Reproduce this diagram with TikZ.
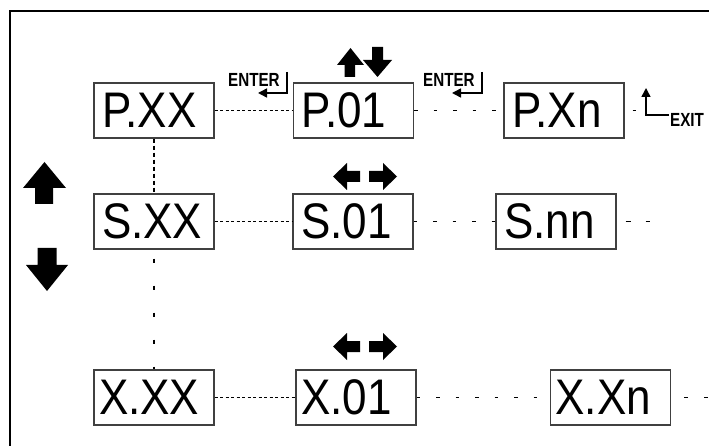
\documentclass[tikz,border=0pt]{standalone}
\usepackage{fontspec}
\newfontfamily\boxfont[FakeStretch=0.88]{Liberation Sans}
\newfontfamily\labfont[FakeStretch=0.8]{Liberation Sans}
\usetikzlibrary{arrows.meta}
\begin{document}
\begin{tikzpicture}[x=1pt,y=-1pt,
  dbox/.style={draw=black!75,line width=1.4pt,minimum height=55pt,inner ysep=0pt,
    inner xsep=#1,text width=120pt-2*#1,align=left,
    font=\boxfont\fontsize{50pt}{50pt}\selectfont},
  dbox/.default=8pt,
  dense/.style={line width=1.5pt,dash pattern=on 3pt off 2.5pt},
  sparse/.style={line width=1.5pt,dash pattern=on 3.5pt off 16pt},
  lab/.style={font=\labfont\bfseries\fontsize{19pt}{19pt}\selectfont,inner sep=0pt,anchor=base west},
  keyline/.style={line width=1.5pt,-{Triangle[length=9pt,width=9pt]}},
  blk/.style={fill=black}]
\useasboundingbox (0,0) rectangle (709,446);
% frame
\draw[line width=2pt] (10,446) -- (10,11) -- (709,11);
% boxes
\node[dbox] (PXX) at (154,110.5) {P.XX};
\node[dbox] (P01) at (353.5,110.5) {P.01};
\node[dbox] (PXn) at (564,110.5) {P.Xn};
\node[dbox] (SXX) at (154,221.5) {S.XX};
\node[dbox] (S01) at (353,221.5) {S.01};
\node[dbox] (Snn) at (556,221.5) {S.nn};
\node[dbox=5pt] (XXX) at (154,397.5) {X.XX};
\node[dbox=5pt] (X01) at (356,397.5) {X.01};
\node[dbox=5pt] (XXn) at (610.5,397.5) {X.Xn};
% free ends
\coordinate (Pend) at (636,110.5);
\coordinate (Send) at (650,221.5);
\coordinate (Xend) at (709,397.5);
% connectors
\draw[dense] (PXX.east) -- (P01.west);
\draw[sparse] (P01.east) -- (PXn.west);
\draw[line width=1.5pt,dash pattern=on 0pt off 8pt on 4pt off 20pt] (PXn.east) -- (Pend);
\draw[line width=1.5pt,dash pattern=on 4pt off 3pt] (PXX.south) -- (SXX.north);
\draw[line width=1.5pt,dash pattern=on 0pt off 9pt on 4pt off 14pt] (SXX.south) -- (XXX.north);
\draw[dense] (SXX.east) -- (S01.west);
\draw[sparse] (S01.east) -- (Snn.west);
\draw[line width=1.5pt,dash pattern=on 0pt off 9pt on 5pt off 15pt on 4pt off 30pt] (Snn.east) -- (Send);
\draw[dense] (XXX.east) -- (X01.west);
\draw[sparse] (X01.east) -- (XXn.west);
\draw[line width=1.5pt,dash pattern=on 0pt off 13pt on 4pt off 16pt on 4pt off 30pt] (XXn.east) -- (Xend);
% ENTER keys
\node[lab] (ent1) at (228,87) {ENTER};
\draw[keyline] (287,72) -- (287,93) -- (258,93);
\node[lab] (ent2) at (423,87) {ENTER};
\draw[keyline] (482,72) -- (482,93) -- (452,93);
% EXIT
\node[lab] (exit) at (670,127) {EXIT};
\draw[keyline] (669,115) -- (646,115) -- (646,88);
% small up/down arrows above P.01
\fill[blk] (350.5,48) -- (337,65) -- (344.5,65) -- (344.5,77) -- (355,77) -- (355,65) -- (364,65) -- cycle;
\fill[blk] (372,47) -- (383,47) -- (383,60) -- (392,60) -- (377.5,77) -- (363,60) -- (372,60) -- cycle;
% left/right arrows above S.01 and X.01
\foreach \dy in {0,170}{
  \fill[blk] (333,176.5+\dy) -- (347,163+\dy) -- (347,171+\dy) -- (360,171+\dy) -- (360,182+\dy) -- (347,182+\dy) -- (347,190+\dy) -- cycle;
  \fill[blk] (397,176.5+\dy) -- (383,163+\dy) -- (383,171+\dy) -- (369,171+\dy) -- (369,182+\dy) -- (383,182+\dy) -- (383,190+\dy) -- cycle;
}
% big up/down arrows
\fill[blk] (44.5,162) -- (23,188) -- (35,188) -- (35,204) -- (53,204) -- (53,188) -- (66,188) -- cycle;
\fill[blk] (37.5,248) -- (56.5,248) -- (56.5,265) -- (68,265) -- (47,291) -- (26,265) -- (37.5,265) -- cycle;
\end{tikzpicture}
\end{document}
